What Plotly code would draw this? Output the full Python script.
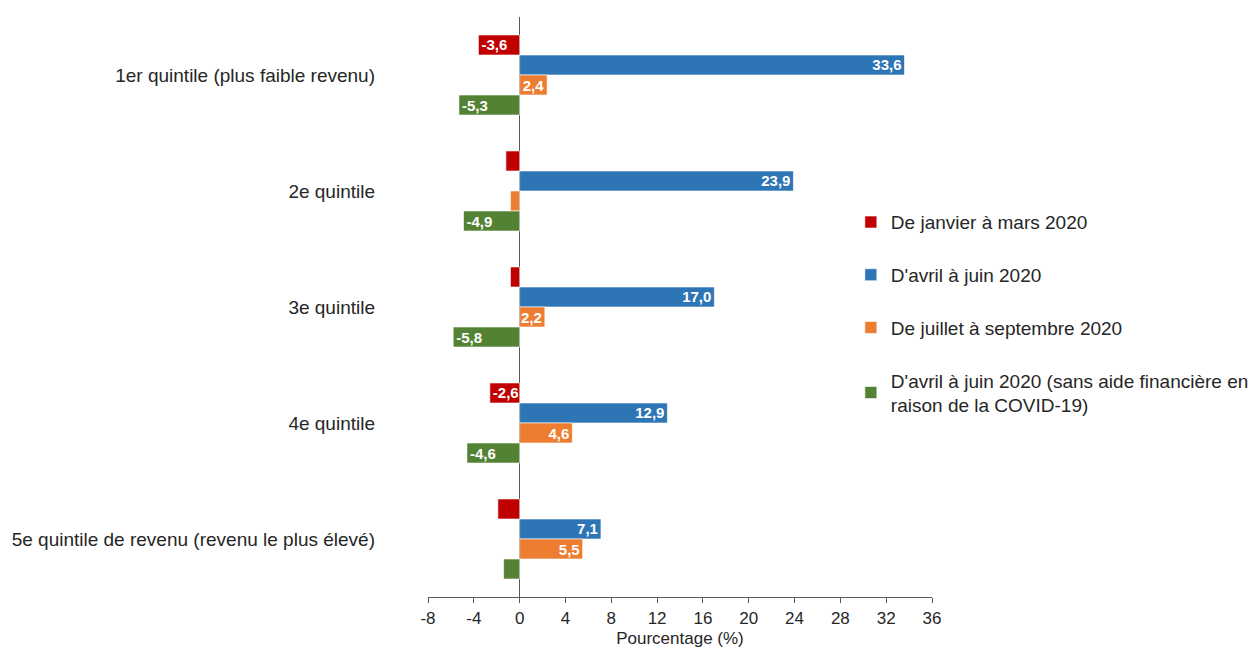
import plotly.graph_objects as go

# Quintiles de revenu (ordre d'affichage, du haut vers le bas)
quintiles = [
    "1er quintile (plus faible revenu)",
    "2e quintile",
    "3e quintile",
    "4e quintile",
    "5e quintile de revenu (revenu le plus élevé)",
]

# Variation en pourcentage, par période
jan_mars = [-3.6, -1.2, -0.8, -2.6, -1.9]
avr_juin = [33.6, 23.9, 17.0, 12.9, 7.1]
juil_sept = [2.4, -0.8, 2.2, 4.6, 5.5]
avr_juin_sans_aide = [-5.3, -4.9, -5.8, -4.6, -1.4]

series = [
    ("De janvier à mars 2020", jan_mars, "#C00000"),
    ("D'avril à juin 2020", avr_juin, "#2E75B6"),
    ("De juillet à septembre 2020", juil_sept, "#ED7D31"),
    ("D'avril à juin 2020 (sans aide financière en<br>raison de la COVID-19)",
     avr_juin_sans_aide, "#548235"),
]

x_ticks = list(range(-8, 37, 4))


def label(v):
    # Les petites barres ne portent pas d'étiquette
    if abs(v) < 2:
        return ""
    return f"{v:.1f}".replace(".", ",")


fig = go.Figure()
for i, (name, vals, color) in enumerate(series):
    fig.add_trace(go.Bar(
        y=quintiles,
        x=vals,
        name=name,
        orientation="h",
        marker=dict(color=color, line=dict(color="white", width=0.6)),
        text=[label(v) for v in vals],
        textposition="inside",
        insidetextanchor="end",
        textangle=0,
        constraintext="none",
        textfont=dict(family="Liberation Sans", size=15, color="white", weight="bold"),
        legendgroup=f"g{i}",
        hoverinfo="skip",
    ))

fig.update_layout(
    width=1251,
    height=649,
    barmode="group",
    bargap=0.31,
    bargroupgap=0,
    plot_bgcolor="white",
    paper_bgcolor="white",
    margin=dict(l=428, r=319, t=17, b=52, autoexpand=False),
    font=dict(family="Liberation Sans", size=18, color="#262626"),
    legend=dict(
        x=0.839, xanchor="left",
        y=0.679, yanchor="top",
        tracegroupgap=25,
        font=dict(family="Liberation Sans", size=19, color="#262626"),
        itemwidth=30,
        bgcolor="rgba(0,0,0,0)",
    ),
    xaxis=dict(
        range=[-8, 36],
        tickmode="array",
        tickvals=x_ticks,
        ticktext=[str(t) for t in x_ticks],
        showgrid=False,
        zeroline=True,
        zerolinecolor="#595959",
        zerolinewidth=1.3,
        showline=True,
        linecolor="#595959",
        linewidth=1.3,
        ticks="outside",
        ticklen=5,
        tickcolor="#595959",
        tickfont=dict(size=17, color="#262626"),
        title=dict(text="Pourcentage (%)", standoff=5,
                   font=dict(size=17, color="#262626")),
    ),
    yaxis=dict(
        autorange="reversed",
        showgrid=False,
        showline=False,
        zeroline=False,
        ticks="",
        ticklabelstandoff=52,
        tickfont=dict(size=19, color="#262626"),
    ),
)

fig.write_html("out.html")
